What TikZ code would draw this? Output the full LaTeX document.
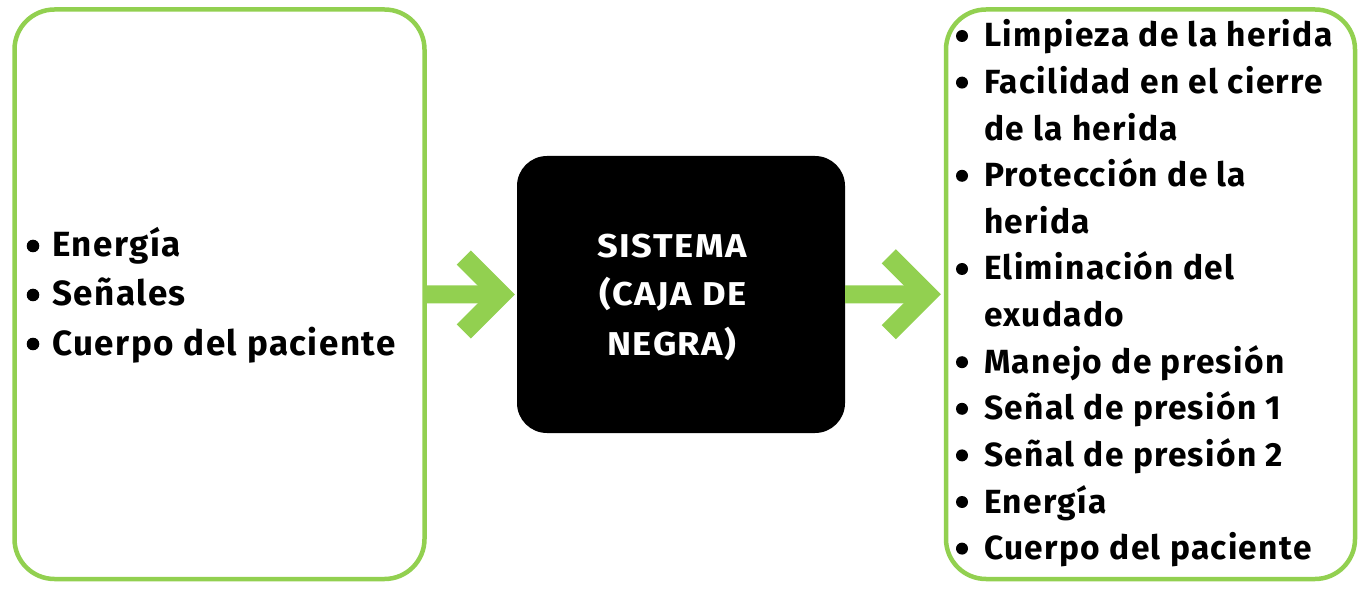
\documentclass[tikz,border=0pt]{standalone}
\usepackage{fontspec}
\setmainfont{Fira Sans}
\usetikzlibrary{calc}
\definecolor{lgreen}{HTML}{92D050}
\tikzset{
  greenbox/.style={draw=lgreen, line width=4.5pt, rounded corners=40pt, inner sep=0pt},
  blackbox/.style={fill=black, rounded corners=30pt, inner sep=0pt},
  mtext/.style={anchor=base, inner sep=0pt, text=white,
    font=\bfseries\fontsize{33}{40}\selectfont\addfontfeatures{FakeStretch=1.1,LetterSpace=4.5}},
  ltext/.style={anchor=base west, inner sep=0pt, font=\bfseries\fontsize{35}{42}\selectfont\addfontfeatures{LetterSpace=4.2}},
  rtext/.style={anchor=base west, inner sep=0pt, font=\bfseries\fontsize{33.5}{40}\selectfont\addfontfeatures{LetterSpace=4}},
  shaft/.style={draw=lgreen, line width=18pt},
  chev/.style={draw=lgreen, line width=20pt, miter limit=4, line join=miter},
  dot/.style={fill=black}
}
\begin{document}
\begin{tikzpicture}[x=1pt,y=-1pt]
\useasboundingbox (0,0) rectangle (1359,593);
\node[greenbox, minimum width=410pt, minimum height=569.5pt] (L) at (219.5,294.25) {};
\node[greenbox, minimum width=409pt, minimum height=569.5pt] (R) at (1150.5,294.25) {};
\node[blackbox, minimum width=328pt, minimum height=277pt] (M) at (681,294.5) {};
\node[mtext] (m1) at ($(M.center)+(-9,-36.5)$) {SISTEMA};
\node[mtext] (m2) at ($(M.center)+(-8,11.5)$) {(CAJA DE};
\node[mtext] (m3) at ($(M.center)+(-9,60.5)$) {NEGRA)};
% left list
\foreach \t [count=\i] in {Energía,Señales,Cuerpo del paciente}{
  \node[ltext] (l\i) at (52,{257+49*(\i-1)}) {\t};
  \fill[dot] ($(l\i.base west)+(-19,-11)$) circle (6.3pt);
}
% right list
\foreach \b/\t [count=\i] in {1/Limpieza de la herida,1/Facilidad en el cierre,0/de la herida,1/Protección de la,0/herida,1/Eliminación del,0/exudado,1/Manejo de presión,1/Señal de presión 1,1/Señal de presión 2,1/Energía,1/Cuerpo del paciente}{
  \node[rtext] (r\i) at (984,{47+46.6*(\i-1)}) {\t};
  \ifnum\b=1 \fill[dot] ($(r\i.base west)+(-22,-11)$) circle (6pt);\fi
}
% connectors
\draw[shaft] (L.east) -- ($(M.west)+(-16,0)$);
\draw[chev] ($(M.west)+(-53,-37)$) -- ($(M.west)+(-16,0)$) -- ($(M.west)+(-53,37)$);
\draw[shaft] (M.east) -- ($(R.west)+(-17,0)$);
\draw[chev] ($(R.west)+(-55,-38)$) -- ($(R.west)+(-17,0)$) -- ($(R.west)+(-55,38)$);
\end{tikzpicture}
\end{document}
